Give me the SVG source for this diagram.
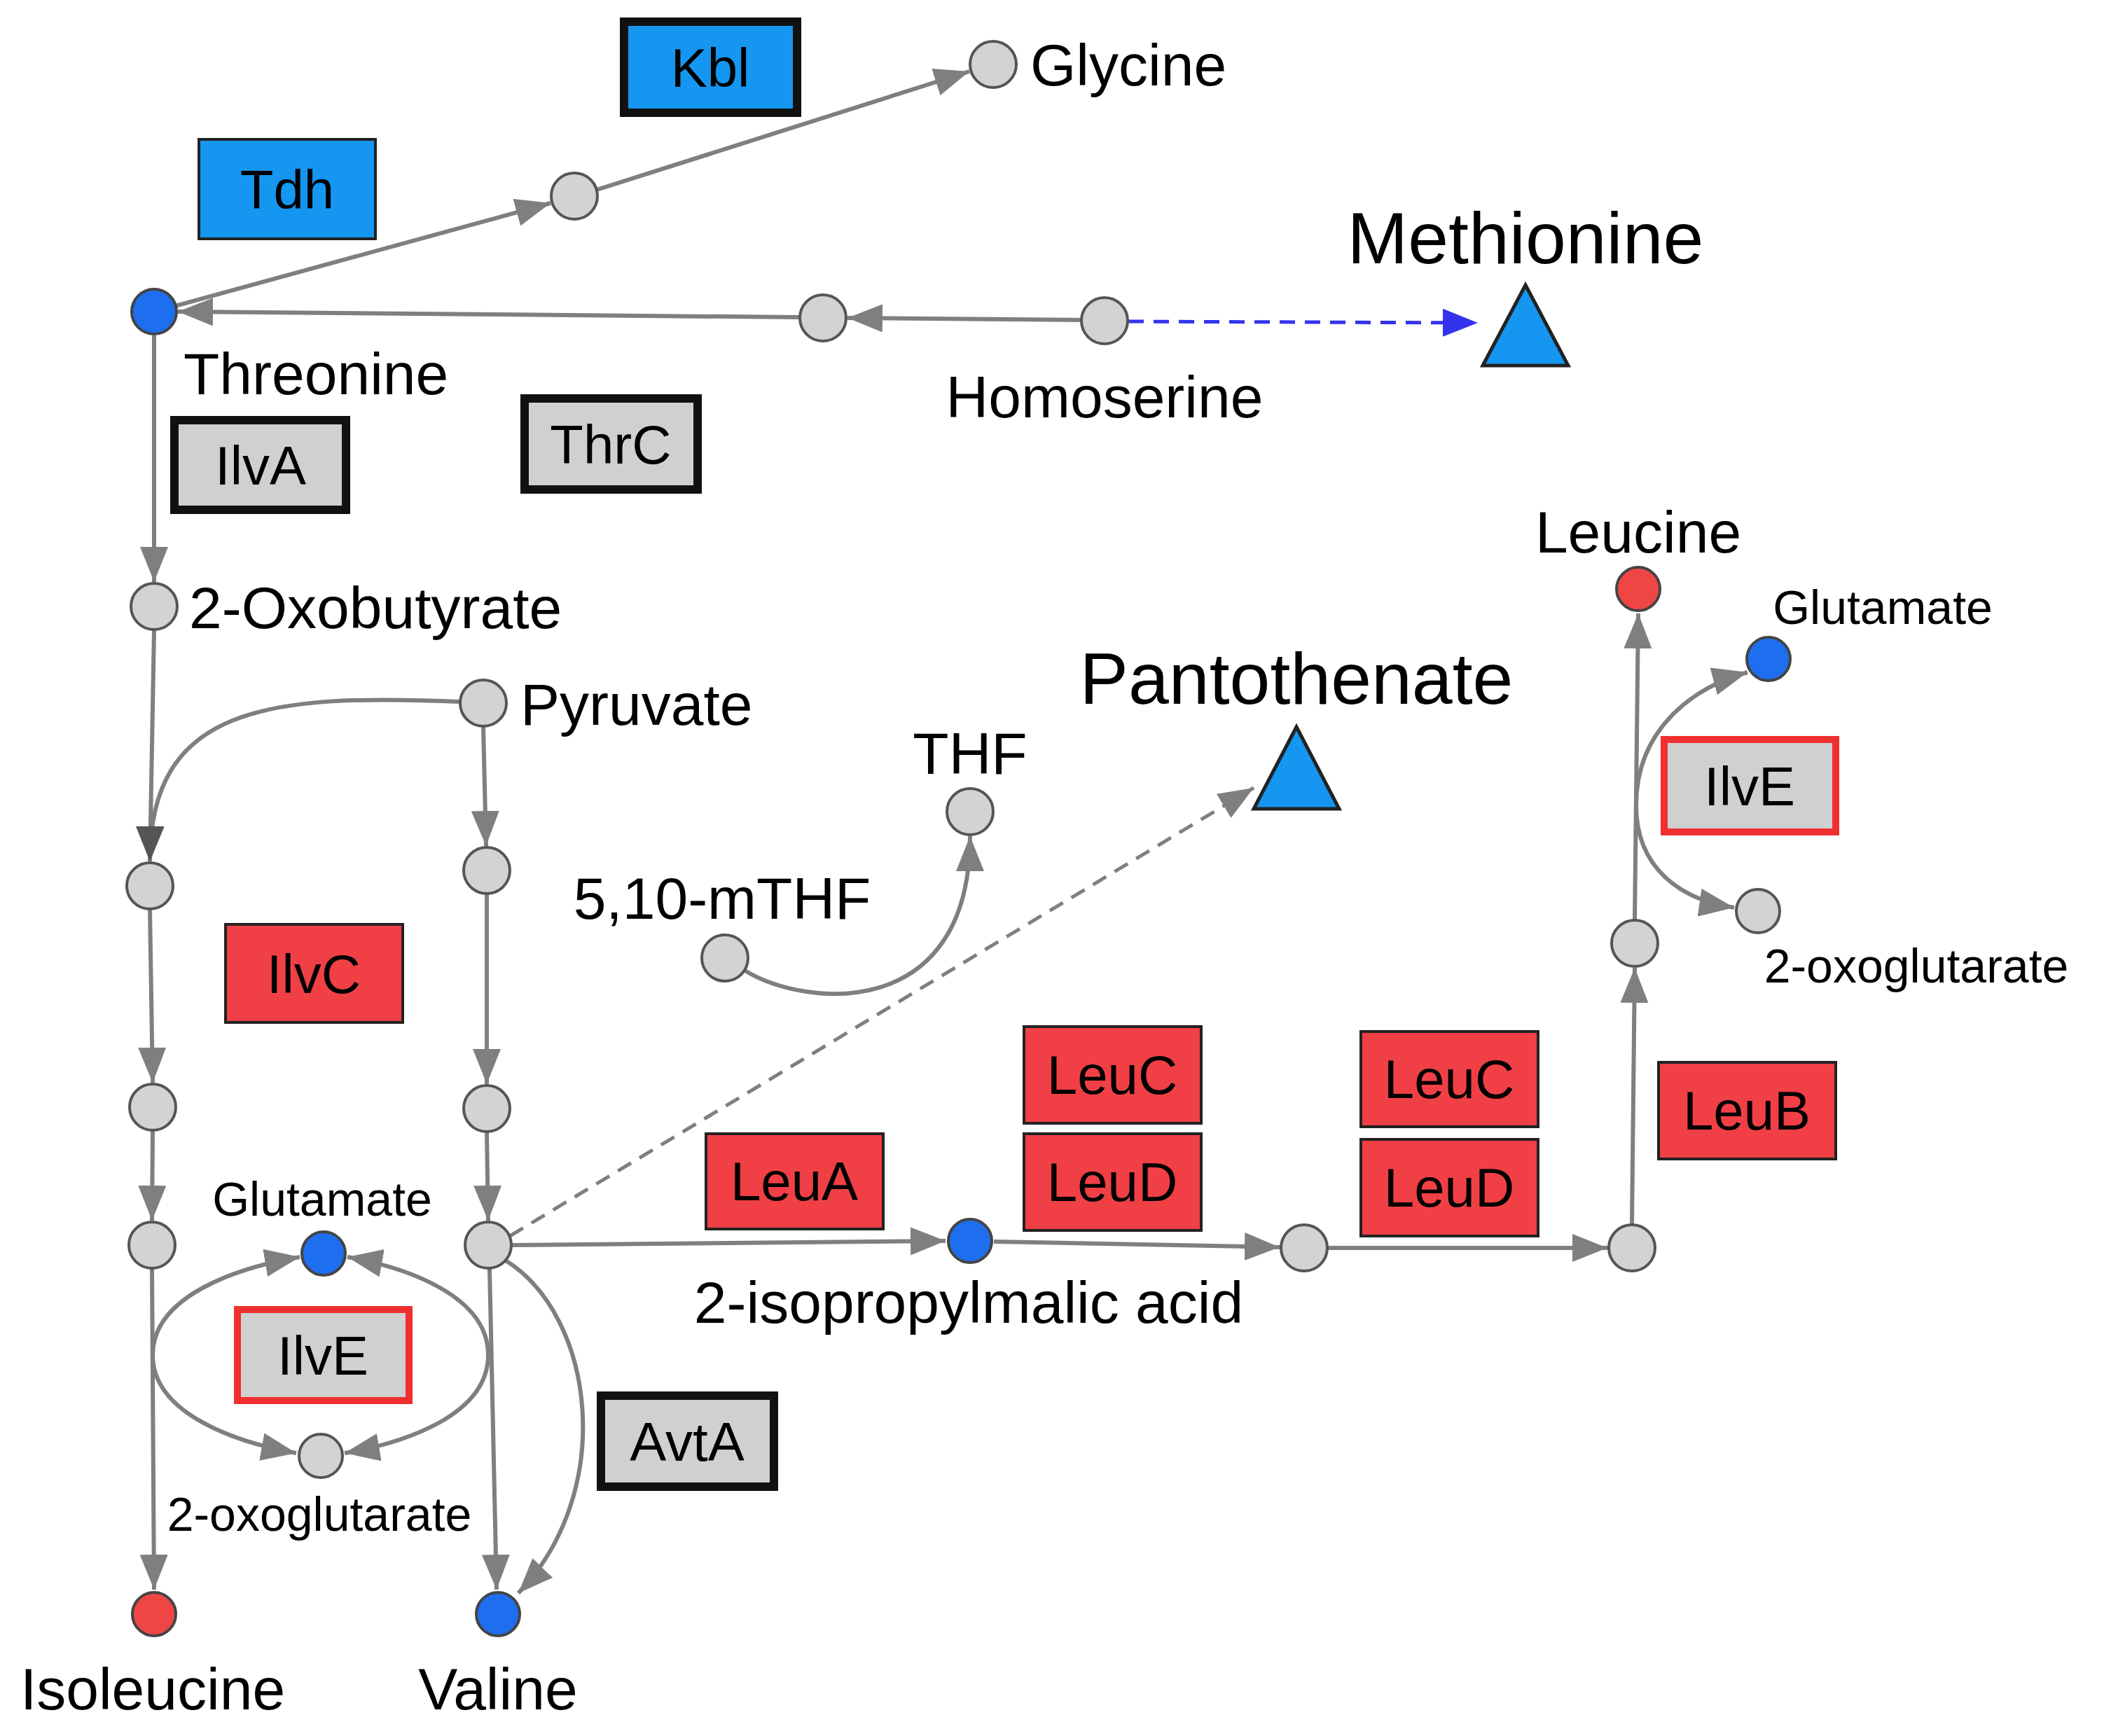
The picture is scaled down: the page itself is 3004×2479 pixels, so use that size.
<svg xmlns="http://www.w3.org/2000/svg" width="3004" height="2479" viewBox="0 0 3004 2479">
<defs>
<marker id="ar" markerUnits="userSpaceOnUse" markerWidth="54" markerHeight="44" refX="50" refY="20" orient="auto"><path d="M0,0 L50,20 L0,40 Z" fill="#7f7f7f"/></marker>
<marker id="arb" markerUnits="userSpaceOnUse" markerWidth="54" markerHeight="44" refX="50" refY="20" orient="auto"><path d="M0,0 L50,20 L0,40 Z" fill="#3333ee"/></marker>
<marker id="ard" markerUnits="userSpaceOnUse" markerWidth="54" markerHeight="44" refX="50" refY="20" orient="auto"><path d="M0,0 L50,20 L0,40 Z" fill="#555"/></marker>
</defs>
<style>
text{font-family:"Liberation Sans",Arial,sans-serif;fill:#000}
.lbl{font-size:84px}
.sm{font-size:68px}
.big{font-size:104px}
.bx{font-size:78px;text-anchor:middle}
.g{fill:#d3d3d3;stroke:#555;stroke-width:4}
.b{fill:#1e6ef0;stroke:#444;stroke-width:4}
.r{fill:#f04545;stroke:#444;stroke-width:4}
.e{fill:none;stroke:#7f7f7f;stroke-width:6;marker-end:url(#ar)}
.blue{fill:#1596f0}
.red{fill:#f04045}
.grey{fill:#d0d0d0}
.thin{stroke:#222;stroke-width:4}
.thick{stroke:#111;stroke-width:12}
.redb{stroke:#f03030;stroke-width:10}
.tri{fill:#1596f0;stroke:#222;stroke-width:5}
</style>
<rect width="3004" height="2479" fill="#fff"/>
<g id="connectors">
<line class="e" x1="250" y1="437" x2="786" y2="290"/>
<line class="e" x1="852" y1="271" x2="1384" y2="102"/>
<line class="e" x1="1543" y1="457" x2="1210" y2="454"/>
<line class="e" x1="1141" y1="453" x2="254" y2="445"/>
<line x1="1611" y1="459" x2="2110" y2="461" stroke="#3333ee" stroke-width="5" stroke-dasharray="22,14" marker-end="url(#arb)"/>
<line class="e" x1="220" y1="479" x2="220" y2="831"/>
<line class="e" x1="220" y1="900" x2="214" y2="1230"/>
<path class="e" d="M657,1002 C 380,990 214,1010 214,1230" style="marker-end:url(#ard)"/>
<line class="e" x1="690" y1="1038" x2="694" y2="1208"/>
<line class="e" x1="214" y1="1299" x2="218" y2="1546"/>
<line class="e" x1="218" y1="1615" x2="217" y2="1743"/>
<line class="e" x1="217" y1="1812" x2="220" y2="2270"/>
<line class="e" x1="695" y1="1277" x2="695" y2="1548"/>
<line class="e" x1="695" y1="1617" x2="697" y2="1743"/>
<line class="e" x1="699" y1="1812" x2="709" y2="2270"/>
<path class="e" d="M722,1800 C 850,1880 880,2130 740,2275"/>
<path class="e" d="M218,1935 C 218,1850 340,1810 428,1795"/>
<path class="e" d="M218,1935 C 218,2020 340,2060 423,2075"/>
<path class="e" d="M697,1935 C 697,1850 580,1810 496,1795"/>
<path class="e" d="M697,1935 C 697,2020 580,2060 492,2075"/>
<path class="e" d="M1062,1385 C 1150,1440 1385,1460 1385,1194"/>
<line x1="728" y1="1765" x2="1790" y2="1125" stroke="#7f7f7f" stroke-width="5" stroke-dasharray="22,14" marker-end="url(#ar)"/>
<line class="e" x1="731" y1="1778" x2="1350" y2="1772"/>
<line class="e" x1="1419" y1="1773" x2="1827" y2="1781"/>
<line class="e" x1="1896" y1="1782" x2="2295" y2="1782"/>
<line class="e" x1="2330" y1="1748" x2="2334" y2="1382"/>
<line class="e" x1="2334" y1="1313" x2="2339" y2="876"/>
<path class="e" d="M2336,1150 C 2336,1040 2420,980 2495,960"/>
<path class="e" d="M2336,1150 C 2336,1240 2400,1285 2476,1296"/>
</g>
<g id="n-threonine"><circle class="b" cx="220" cy="445" r="32"/><text class="lbl" x="262" y="563">Threonine</text></g>
<g id="n-c1"><circle class="g" cx="820" cy="280" r="33"/></g>
<g id="n-glycine"><circle class="g" cx="1418" cy="92" r="33"/><text class="lbl" x="1471" y="122">Glycine</text></g>
<g id="n-c2"><circle class="g" cx="1175" cy="454" r="33"/></g>
<g id="n-homoserine"><circle class="g" cx="1577" cy="458" r="33"/><text class="lbl" x="1577" y="596" text-anchor="middle">Homoserine</text></g>
<g id="n-methionine"><polygon class="tri" points="2178,407 2239,522 2117,522"/><text class="big" x="2178" y="376" text-anchor="middle">Methionine</text></g>
<g id="n-oxobutyrate"><circle class="g" cx="220" cy="866" r="33"/><text class="lbl" x="270" y="897">2-Oxobutyrate</text></g>
<g id="n-pyruvate"><circle class="g" cx="690" cy="1004" r="33"/><text class="lbl" x="743" y="1035">Pyruvate</text></g>
<g id="n-c3"><circle class="g" cx="214" cy="1265" r="33"/></g>
<g id="n-c4"><circle class="g" cx="695" cy="1243" r="33"/></g>
<g id="n-c5"><circle class="g" cx="218" cy="1581" r="33"/></g>
<g id="n-c6"><circle class="g" cx="695" cy="1583" r="33"/></g>
<g id="n-c7"><circle class="g" cx="217" cy="1778" r="33"/></g>
<g id="n-c8"><circle class="g" cx="697" cy="1778" r="33"/></g>
<g id="n-glu-l"><circle class="b" cx="462" cy="1790" r="31"/><text class="sm" x="460" y="1736" text-anchor="middle">Glutamate</text></g>
<g id="n-oxo-l"><circle class="g" cx="458" cy="2079" r="31"/><text class="sm" x="456" y="2186" text-anchor="middle">2-oxoglutarate</text></g>
<g id="n-isoleucine"><circle class="r" cx="220" cy="2305" r="31"/><text class="lbl" x="218" y="2441" text-anchor="middle">Isoleucine</text></g>
<g id="n-valine"><circle class="b" cx="711" cy="2305" r="31"/><text class="lbl" x="711" y="2441" text-anchor="middle">Valine</text></g>
<g id="n-mthf"><circle class="g" cx="1035" cy="1368" r="33"/><text class="lbl" x="1031" y="1312" text-anchor="middle">5,10-mTHF</text></g>
<g id="n-thf"><circle class="g" cx="1385" cy="1159" r="33"/><text class="lbl" x="1385" y="1105" text-anchor="middle">THF</text></g>
<g id="n-pantothenate"><polygon class="tri" points="1851,1038 1912,1155 1790,1155"/><text class="big" x="1851" y="1005" text-anchor="middle">Pantothenate</text></g>
<g id="n-ipm"><circle class="b" cx="1385" cy="1772" r="31"/><text class="lbl" x="1383" y="1889" text-anchor="middle">2-isopropylmalic acid</text></g>
<g id="n-c9"><circle class="g" cx="1862" cy="1782" r="33"/></g>
<g id="n-c10"><circle class="g" cx="2330" cy="1782" r="33"/></g>
<g id="n-c11"><circle class="g" cx="2334" cy="1347" r="33"/></g>
<g id="n-leucine"><circle class="r" cx="2339" cy="841" r="31"/><text class="lbl" x="2339" y="789" text-anchor="middle">Leucine</text></g>
<g id="n-glu-r"><circle class="b" cx="2525" cy="941" r="31"/><text class="sm" x="2688" y="891" text-anchor="middle">Glutamate</text></g>
<g id="n-oxo-r"><circle class="g" cx="2510" cy="1301" r="31"/><text class="sm" x="2736" y="1403" text-anchor="middle">2-oxoglutarate</text></g>
<g id="b-kbl"><rect class="blue thick" x="891" y="31" width="247" height="130"/><text class="bx" x="1014" y="124">Kbl</text></g>
<g id="b-tdh"><rect class="blue thin" x="284" y="199" width="252" height="142"/><text class="bx" x="410" y="298">Tdh</text></g>
<g id="b-ilva"><rect class="grey thick" x="249" y="600" width="245" height="128"/><text class="bx" x="372" y="692">IlvA</text></g>
<g id="b-thrc"><rect class="grey thick" x="749" y="569" width="247" height="130"/><text class="bx" x="872" y="662">ThrC</text></g>
<g id="b-ilvc"><rect class="red thin" x="322" y="1320" width="253" height="140"/><text class="bx" x="448" y="1418">IlvC</text></g>
<g id="b-ilve-l"><rect class="grey redb" x="339" y="1870" width="245" height="130"/><text class="bx" x="461" y="1963">IlvE</text></g>
<g id="b-avta"><rect class="grey thick" x="858" y="1993" width="247" height="130"/><text class="bx" x="981" y="2086">AvtA</text></g>
<g id="b-leua"><rect class="red thin" x="1008" y="1619" width="253" height="136"/><text class="bx" x="1134" y="1714">LeuA</text></g>
<g id="b-leuc1"><rect class="red thin" x="1462" y="1466" width="253" height="138"/><text class="bx" x="1588" y="1562">LeuC</text></g>
<g id="b-leud1"><rect class="red thin" x="1462" y="1619" width="253" height="138"/><text class="bx" x="1588" y="1715">LeuD</text></g>
<g id="b-leuc2"><rect class="red thin" x="1943" y="1473" width="253" height="136"/><text class="bx" x="2069" y="1568">LeuC</text></g>
<g id="b-leud2"><rect class="red thin" x="1943" y="1627" width="253" height="138"/><text class="bx" x="2069" y="1723">LeuD</text></g>
<g id="b-leub"><rect class="red thin" x="2368" y="1517" width="253" height="138"/><text class="bx" x="2494" y="1613">LeuB</text></g>
<g id="b-ilve-r"><rect class="grey redb" x="2376" y="1056" width="245" height="132"/><text class="bx" x="2498" y="1150">IlvE</text></g>
</svg>
